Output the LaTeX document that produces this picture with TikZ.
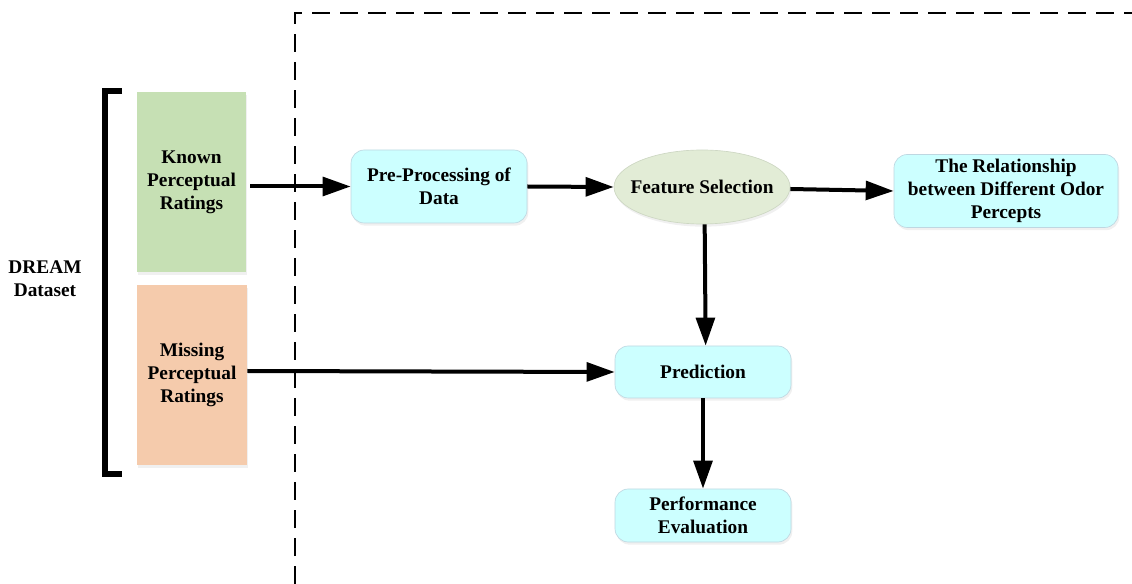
\documentclass[tikz,border=0pt]{standalone}
\usepackage{fontspec}
\setmainfont{Liberation Serif}
\usetikzlibrary{arrows.meta,shapes.geometric,shadows}
\definecolor{cyanfill}{RGB}{204,255,255}
\definecolor{cyanline}{RGB}{190,215,225}
\definecolor{greenfill}{RGB}{198,224,180}
\definecolor{peachfill}{RGB}{245,203,172}
\definecolor{ellfill}{RGB}{226,236,214}
\definecolor{ellline}{RGB}{205,215,195}
\tikzset{
  txt/.style={font=\bfseries\fontsize{14.5}{17.3}\selectfont, align=center},
  rbox/.style={txt, rectangle, rounded corners=10pt, fill=cyanfill, draw=cyanline, line width=0.5pt,
    drop shadow={opacity=0.12, shadow xshift=1pt, shadow yshift=-2pt}, inner sep=0pt},
  sbox/.style={txt, rectangle, inner sep=0pt,
    drop shadow={opacity=0.12, shadow xshift=1pt, shadow yshift=-2pt}},
  arr/.style={line width=3pt, -{Triangle[length=21pt,width=14pt]}},
  dashline/.style={line width=2pt, dash pattern=on 13.5pt off 7.5pt},
}
\begin{document}
\begin{tikzpicture}[x=0.75pt,y=-0.75pt]
\useasboundingbox (0,0) rectangle (1132,584);
% dashed frame
\coordinate (dA) at (295,584);
\coordinate (dB) at (295,13);
\coordinate (dC) at (1132,13);
\draw[dashline] (dA) -- (dB) -- (dC);
% bracket
\coordinate (b1) at (122,91);
\coordinate (b2) at (105,91);
\coordinate (b3) at (105,474);
\coordinate (b4) at (122,474);
\draw[line width=3.8pt] (b1) -- (b2) -- (b3) -- (b4);
\node[txt] (dream) at (45,279) {DREAM\\Dataset};
% left boxes
\node[sbox, fill=greenfill, minimum width=109*0.75pt, minimum height=180*0.75pt] (known) at (191.5,182) {Known\\Perceptual\\Ratings};
\node[sbox, fill=peachfill, minimum width=110*0.75pt, minimum height=180*0.75pt] (missing) at (192,375) {Missing\\Perceptual\\Ratings};
% process nodes
\node[rbox, minimum width=176*0.75pt, minimum height=73*0.75pt] (pre) at (439,186.5) {Pre-Processing of\\Data};
\node[txt, ellipse, fill=ellfill, draw=ellline, line width=0.5pt, minimum width=176*0.75pt, minimum height=74*0.75pt, inner sep=0pt,
  drop shadow={opacity=0.12, shadow xshift=1pt, shadow yshift=-2pt}] (feat) at (702,187) {\makebox[0pt]{Feature Selection}};
\node[rbox, minimum width=224*0.75pt, minimum height=73*0.75pt] (rel) at (1006,191) {The Relationship\\between Different Odor\\Percepts};
\node[rbox, minimum width=176*0.75pt, minimum height=52*0.75pt] (pred) at (703,372) {Prediction};
\node[rbox, minimum width=176*0.75pt, minimum height=53*0.75pt] (perf) at (703,515.5) {Performance\\Evaluation};
% connectors
\draw[arr] (known.east|-pre.west) ++(4,0) -- (pre.west);
\draw[arr] (pre.east) -- (feat.west);
\draw[arr] ([yshift=-1.5pt]feat.east) -- ([yshift=0pt]rel.west);
\draw[arr] ([xshift=2pt]feat.south) -- ([xshift=2pt]pred.north);
\draw[arr] ([yshift=3pt]missing.east) -- (pred.west);
\draw[arr] (pred.south) -- (perf.north);
\end{tikzpicture}
\end{document}
